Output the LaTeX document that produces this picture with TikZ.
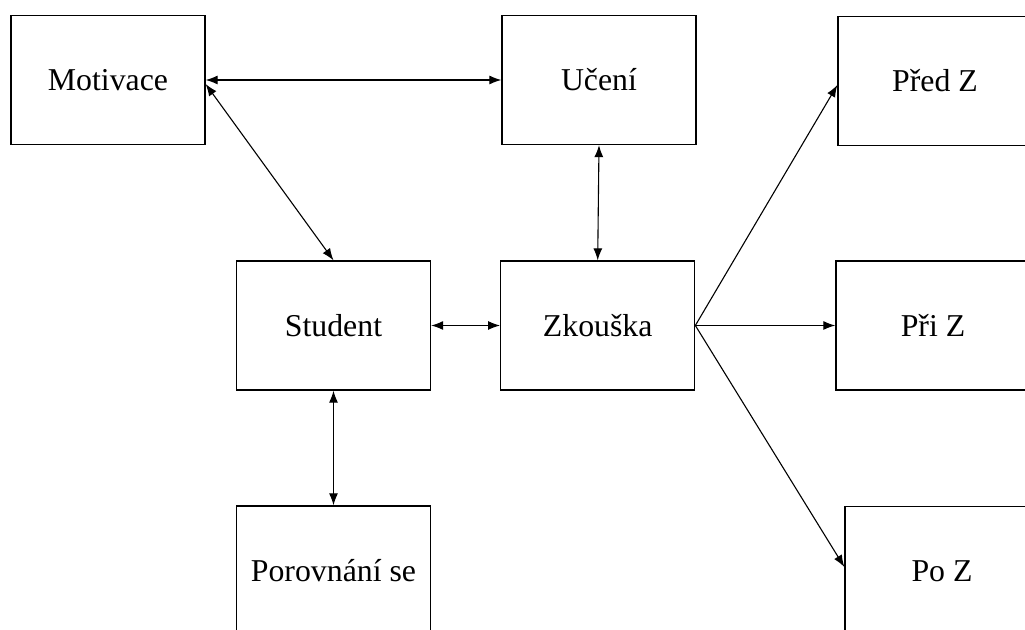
\documentclass[tikz,border=0pt]{standalone}
\usepackage{fontspec}
\setmainfont{Liberation Serif}
\usepackage{tikz}
\usetikzlibrary{arrows.meta}
\tikzstyle{box}=[draw,line width=0.65pt,minimum width=97pt,minimum height=64.5pt,font=\fontsize{15.9}{19}\selectfont]

\begin{document}
\begin{tikzpicture}[x=0.5pt,y=-0.5pt,>={Latex[length=6pt,width=4.5pt]}]
					\clip (0,0) rectangle (1025,630);
					\tikzstyle{link}=[line width=0.55pt]
					\node [box] (motivace) at (108,80) {Motivace};
					\node [box] (uceni) at (599,80) {Učení};
					\node [box] (pred) at (935,81) {Před Z};
					\node [box] (student) at (333.5,325.5) {Student};
					\node [box] (zkouska) at (597.7,325.5) {Zkouška};
					\node [box] (pri) at (933,325.5) {Při Z};
					\node [box] (porovnani) at (333.5,570.5) {Porovnání se};
					\node [box] (po) at (942,571) {Po Z};
					\draw [link,<->] (motivace.east) -- (uceni.west);
					\draw [link,<->] ([yshift=-2pt]motivace.east) -- (student.north);
					\draw [link,<->] (uceni.south) -- (zkouska.north);
					\draw [link,<->] (student.east) -- (zkouska.west);
					\draw [link,<->] (student.south) -- (porovnani.north);
					\draw [link,->] (zkouska.east) -- ([yshift=-2pt]pred.west);
					\draw [link,->] (zkouska.east) -- (pri.west);
					\draw [link,->] (zkouska.east) -- ([yshift=2pt]po.west);
					\end{tikzpicture}
\end{document}
